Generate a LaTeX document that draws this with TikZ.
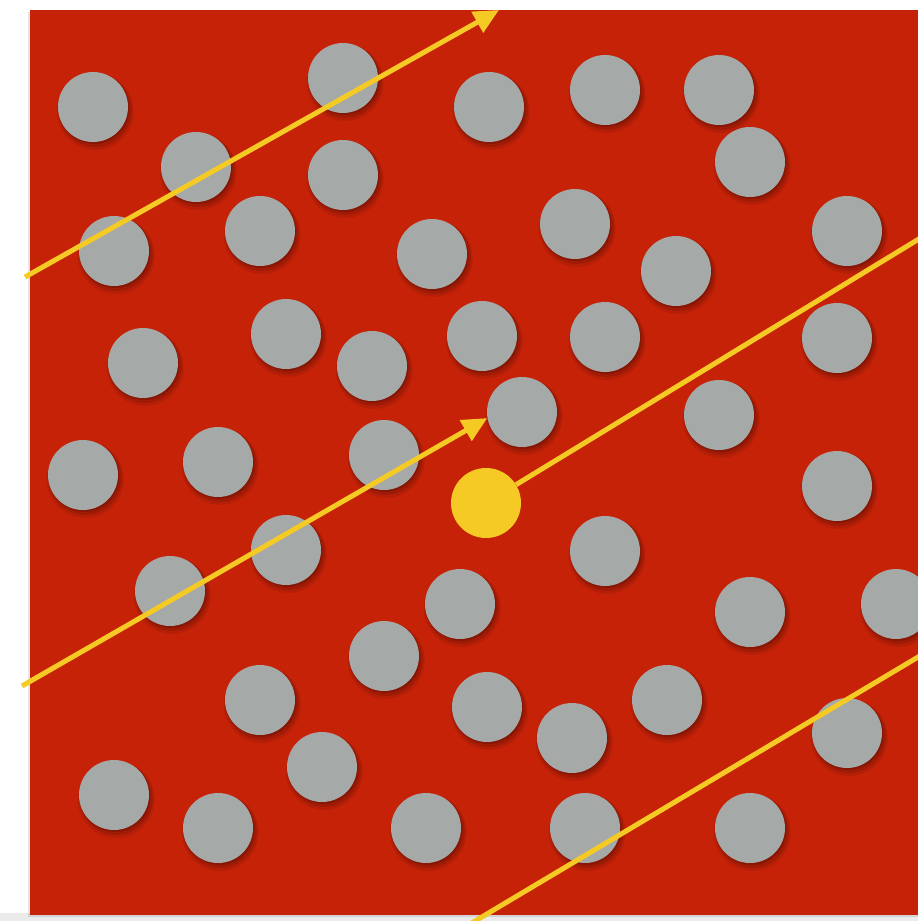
\documentclass[tikz,border=0pt]{standalone}
\usetikzlibrary{arrows.meta,shadows}
\definecolor{bgred}{RGB}{198,34,8}
\definecolor{ballgray}{RGB}{165,169,168}
\definecolor{hotyellow}{RGB}{245,202,36}
\tikzset{
  ball/.style={circle, minimum size=70pt, inner sep=0pt, fill=ballgray,
    general shadow={fill=black, opacity=0.08, shadow xshift=2pt, shadow yshift=-4pt, shadow scale=1.1},
    general shadow={fill=black, opacity=0.12, shadow xshift=2pt, shadow yshift=-3pt, shadow scale=1.05},
    general shadow={fill=black, opacity=0.15, shadow xshift=1.5pt, shadow yshift=-2pt, shadow scale=1.0}},
  hot/.style={circle, minimum size=70pt, inner sep=0pt, fill=hotyellow},
  path/.style={draw=hotyellow, line width=5pt, -{Triangle[length=25pt,width=23pt]}},
  frame/.style={fill=bgred,
    general shadow={fill=black, opacity=0.10, shadow xshift=-2pt, shadow yshift=-2pt}}
}
\begin{document}
\begin{tikzpicture}[x=1pt,y=-1pt]
\useasboundingbox (0,0) rectangle (918,921);
\clip (0,0) rectangle (918,921);
\fill[white] (0,0) rectangle (918,921);
\fill[black!8] (0,913) rectangle (918,921);
\path[frame] (30,10) rectangle (930,915);
% grey molecules
\foreach \i/\x/\y in {
 1/93/107, 2/343/78, 3/489/107, 4/605/90, 5/719/90,
 6/196/167, 7/343/175, 8/750/162,
 9/114/251, 10/260/231, 11/432/254, 12/575/224, 13/676/271, 14/847/231,
 15/143/363, 16/286/334, 17/372/366, 18/482/336, 19/605/337, 20/837/338,
 21/522/412, 22/719/415,
 23/83/475, 24/218/462, 25/384/455, 26/837/486,
 27/286/550, 28/605/551, 29/170/591, 30/460/604, 31/750/612, 32/896/604,
 33/384/656, 34/260/700, 35/487/707, 36/667/700, 37/572/738, 38/847/733,
 39/322/767, 40/114/795, 41/218/828, 42/426/828, 43/585/828, 44/750/828}
 {\node[ball] (b\i) at (\x,\y) {};}
% the tracked molecule
\node[hot] (y) at (486,503) {};
% free path segments
\coordinate (s1) at (25,277);
\coordinate (t1) at (499,10);
\coordinate (s2) at (22,686);
\coordinate (t2) at (950,220);
\coordinate (s3) at (460,930);
\coordinate (t3) at (950,638);
\draw[path] (s1) -- (t1);
\draw[path] (s2) -- (b21.190);
\draw[path] (y) -- (t2);
\draw[path] (s3) -- (t3);
\end{tikzpicture}
\end{document}
